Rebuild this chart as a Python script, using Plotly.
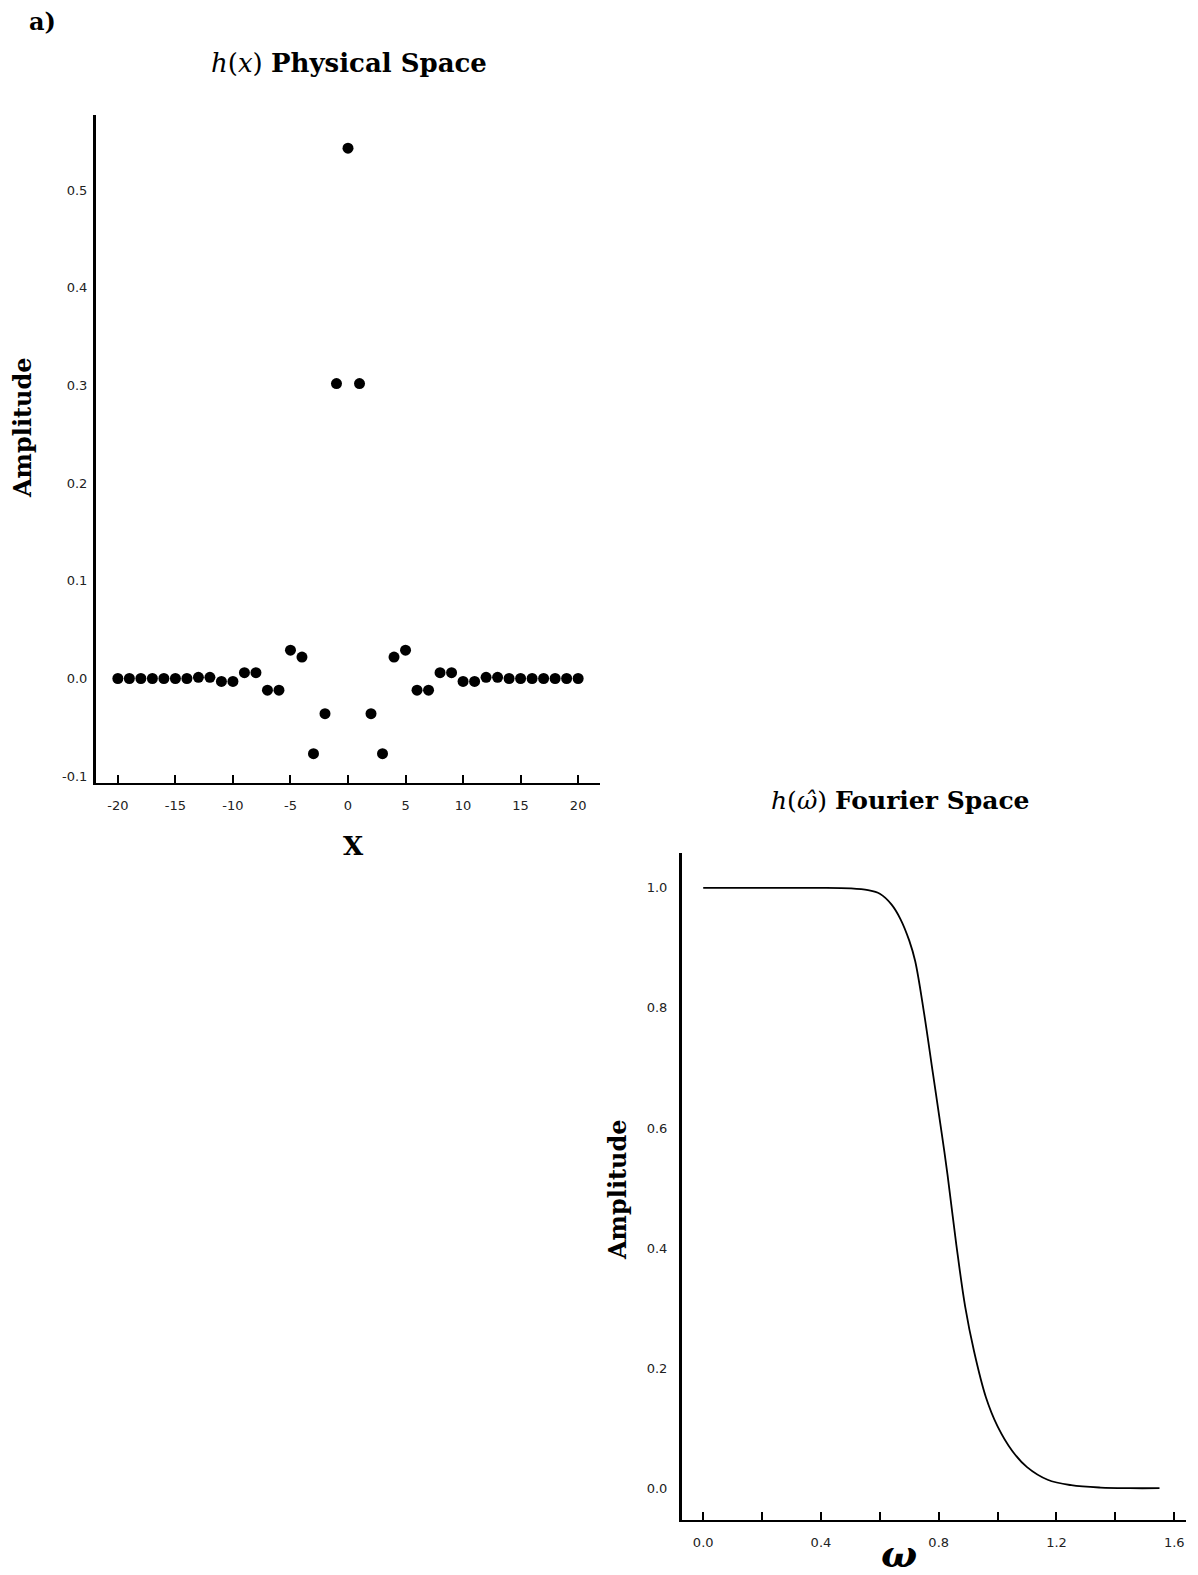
import plotly.graph_objects as go

# ---------------- data ----------------
x_positions = [-20, -19, -18, -17, -16, -15, -14, -13, -12, -11, -10, -9, -8, -7, -6, -5, -4, -3, -2, -1,
               0, 1, 2, 3, 4, 5, 6, 7, 8, 9, 10, 11, 12, 13, 14, 15, 16, 17, 18, 19, 20]
h_values = [0.0, 0.0, 0.0, 0.0, 0.0, 0.0, 0.0, 0.0012, 0.0012, -0.003, -0.003, 0.006, 0.006, -0.012, -0.012,
            0.029, 0.022, -0.077, -0.036, 0.302, 0.543, 0.302, -0.036, -0.077, 0.022, 0.029, -0.012, -0.012,
            0.006, 0.006, -0.003, -0.003, 0.0012, 0.0012, 0.0, 0.0, 0.0, 0.0, 0.0, 0.0, 0.0]

omega = [0.0, 0.1, 0.2, 0.3, 0.4, 0.5, 0.56, 0.60, 0.64, 0.67, 0.70, 0.72, 0.75, 0.78, 0.81, 0.83,
         0.86, 0.89, 0.92, 0.96, 1.00, 1.05, 1.10, 1.17, 1.25, 1.35, 1.45, 1.55]
h_hat = [1.0, 1.0, 1.0, 1.0, 1.0, 0.999, 0.996, 0.990, 0.972, 0.948, 0.912, 0.878, 0.792, 0.692, 0.592,
         0.522, 0.405, 0.302, 0.228, 0.152, 0.103, 0.062, 0.035, 0.014, 0.005, 0.001, 0.0, 0.0]

x_tick_vals_1 = [-20, -15, -10, -5, 0, 5, 10, 15, 20]
x_tick_text_1 = ["-20", "-15", "-10", "-5", "0", "5", "10", "15", "20"]
y_tick_vals_1 = [-0.1, 0.0, 0.1, 0.2, 0.3, 0.4, 0.5]
y_tick_text_1 = ["-0.1", "0.0", "0.1", "0.2", "0.3", "0.4", "0.5"]

x_tick_vals_2 = [0.0, 0.2, 0.4, 0.6, 0.8, 1.0, 1.2, 1.4, 1.6]
x_tick_text_2 = ["0.0", "", "0.4", "", "0.8", "", "1.2", "", "1.6"]
y_tick_vals_2 = [0.0, 0.2, 0.4, 0.6, 0.8, 1.0]
y_tick_text_2 = ["0.0", "0.2", "0.4", "0.6", "0.8", "1.0"]

# ---------------- layout geometry ----------------
W, H = 1198, 1575


def px_x(p):
    return p / W


def px_y(p):
    return 1 - p / H


SERIF = "DejaVu Serif, Liberation Serif, serif"
TICKFONT = dict(family="DejaVu Sans, sans-serif", size=13, color="#222222")

fig = go.Figure()

fig.add_trace(go.Scatter(
    x=x_positions, y=h_values, mode="markers",
    marker=dict(color="black", size=11),
    xaxis="x", yaxis="y", showlegend=False,
))

fig.add_trace(go.Scatter(
    x=omega, y=h_hat, mode="lines", line=dict(color="black", width=1.8, shape="spline", smoothing=1.0),
    xaxis="x2", yaxis="y2", showlegend=False,
))

axis_common = dict(showgrid=False, zeroline=False, showline=True, linecolor="black",
                   tickfont=TICKFONT, fixedrange=True)

fig.update_layout(
    width=W, height=H,
    margin=dict(l=0, r=0, t=0, b=0),
    paper_bgcolor="white", plot_bgcolor="white",
    xaxis=dict(domain=[px_x(96), px_x(600)], range=[-21.9, 21.9], anchor="y",
               tickmode="array", tickvals=x_tick_vals_1, ticktext=x_tick_text_1,
               ticks="inside", ticklen=8, tickwidth=2, tickcolor="black", linewidth=2,
               ticklabelstandoff=9, **axis_common),
    yaxis=dict(domain=[px_y(783), px_y(115)], range=[-0.107, 0.577], anchor="x",
               tickmode="array", tickvals=y_tick_vals_1, ticktext=y_tick_text_1,
               ticks="", linewidth=3, ticklabelstandoff=3,
               **axis_common),
    xaxis2=dict(domain=[px_x(682), px_x(1186)], range=[-0.072, 1.64], anchor="y2",
                tickmode="array", tickvals=x_tick_vals_2, ticktext=x_tick_text_2,
                ticks="inside", ticklen=8, tickwidth=2, tickcolor="black", linewidth=2,
                ticklabelstandoff=9, **axis_common),
    yaxis2=dict(domain=[px_y(1520), px_y(853)], range=[-0.053, 1.058], anchor="x2",
                tickmode="array", tickvals=y_tick_vals_2, ticktext=y_tick_text_2,
                ticks="", linewidth=3, ticklabelstandoff=9,
                **axis_common),
)

annotations = [
    dict(text="<b>a)</b>", x=px_x(42), y=px_y(22), font=dict(family=SERIF, size=24, color="black")),
    dict(text="<i>h</i>(<i>x</i>) <b>Physical Space</b>", x=px_x(349), y=px_y(63),
         font=dict(family=SERIF, size=26, color="black")),
    dict(text="<b>Amplitude</b>", x=px_x(22), y=px_y(428), textangle=-90,
         font=dict(family=SERIF, size=24, color="black")),
    dict(text="<b>X</b>", x=px_x(353), y=px_y(846), font=dict(family=SERIF, size=26, color="black")),
    dict(text="<i>h</i>(<i>\u03c9\u0302</i>) <b>Fourier Space</b>", x=px_x(900), y=px_y(800),
         font=dict(family=SERIF, size=25, color="black")),
    dict(text="<b>Amplitude</b>", x=px_x(617), y=px_y(1190), textangle=-90,
         font=dict(family=SERIF, size=24, color="black")),
    dict(text="<b><i>ω</i></b>", x=px_x(899), y=px_y(1553), font=dict(family=SERIF, size=38, color="black")),
]
for a in annotations:
    a.update(xref="paper", yref="paper", showarrow=False, xanchor="center", yanchor="middle")
fig.update_layout(annotations=annotations)

fig.write_html("out.html")
